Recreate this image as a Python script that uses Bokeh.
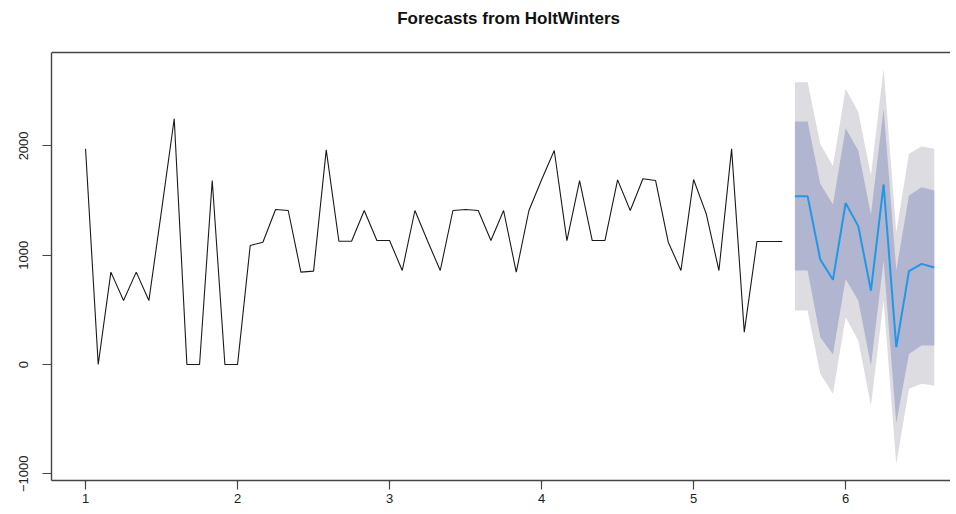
from bokeh.plotting import figure
from bokeh.models import FixedTicker, LinearAxis, Label, Span
from bokeh.embed import file_html
from bokeh.resources import INLINE

# Observed series (monthly, starting at time 1, frequency 12)
start = 1.0
freq = 12
observed = [1973, 0, 845, 585, 845, 585, 1410, 2248, 0, 0, 1683, 0,
            0, 1089, 1119, 1418, 1409, 845, 854, 1964, 1128, 1128, 1409, 1134,
            1134, 860, 1409, 1130, 860, 1409, 1418, 1409, 1134, 1409, 845, 1409,
            1690, 1958, 1134, 1683, 1134, 1134, 1689, 1409, 1700, 1683, 1119, 860,
            1692, 1378, 860, 1973, 296, 1125, 1125, 1125]

# Forecast (h = 12)
fc_mean = [1540, 1540, 961, 775, 1477, 1266, 677, 1647, 159, 854, 921, 887]
fc_lo80 = [860, 860, 250, 91, 783, 585, -9, 951, -537, 97, 174, 174]
fc_hi80 = [2223, 2223, 1653, 1464, 2162, 1958, 1372, 2339, 860, 1546, 1622, 1592]
fc_lo95 = [494, 494, -85, -268, 433, 220, -375, 585, -909, -222, -176, -192]
fc_hi95 = [2583, 2583, 2018, 1817, 2522, 2309, 1729, 2705, 1210, 1927, 1994, 1973]

x_ticks = [1, 2, 3, 4, 5, 6]
y_ticks = [-1000, 0, 1000, 2000]
title_text = "Forecasts from HoltWinters"

obs_t = [start + i / freq for i in range(len(observed))]
n = len(observed)
fc_t = [start + (n + i) / freq for i in range(len(fc_mean))]

FONT = "Liberation Sans"
AX = "#444444"

# plot box (R's usr limits)
BOX_Y0, BOX_Y1 = -1061, 2854

p = figure(width=950, height=508, x_range=(0.776, 6.69), y_range=(BOX_Y0, 3330),
           output_backend="svg", toolbar_location=None,
           min_border_left=51, min_border_right=0, min_border_top=0, min_border_bottom=28,
           x_axis_location=None, y_axis_location=None)
p.outline_line_color = None
p.grid.visible = False
p.background_fill_color = "white"
p.border_fill_color = "white"

p.varea(x=fc_t, y1=fc_lo95, y2=fc_hi95, fill_color="#DCDCE1", fill_alpha=1.0)
p.varea(x=fc_t, y1=fc_lo80, y2=fc_hi80, fill_color="#B1B5CF", fill_alpha=1.0)
p.line(obs_t, observed, line_color="#1a1a1a", line_width=1.1)
p.line(fc_t, fc_mean, line_color="#2297E6", line_width=2)

xa = LinearAxis(ticker=FixedTicker(ticks=x_ticks))
ya = LinearAxis(ticker=FixedTicker(ticks=y_ticks), bounds=(BOX_Y0, BOX_Y1))
for ax in (xa, ya):
    ax.axis_line_color = AX
    ax.axis_line_width = 1.4
    ax.major_tick_line_color = AX
    ax.major_tick_line_width = 1.2
    ax.major_tick_out = 9
    ax.major_tick_in = 0
    ax.minor_tick_line_color = None
    ax.major_label_text_font = FONT
    ax.major_label_text_font_size = "13px"
    ax.major_label_text_color = "#222222"
xa.major_label_standoff = 4
ya.major_label_standoff = 14
ya.major_label_orientation = "vertical"
p.add_layout(xa, "below")
p.add_layout(ya, "left")

# top edge of the plot box
p.add_layout(Span(location=BOX_Y1, dimension="width", line_color=AX, line_width=1.4))

title = Label(x=3.783, y=3166, text=title_text, text_align="center",
              text_baseline="middle", text_font=FONT, text_font_size="17px",
              text_font_style="bold", text_color="#111111")
p.add_layout(title)

open("out.html", "w").write(file_html(p, INLINE))
